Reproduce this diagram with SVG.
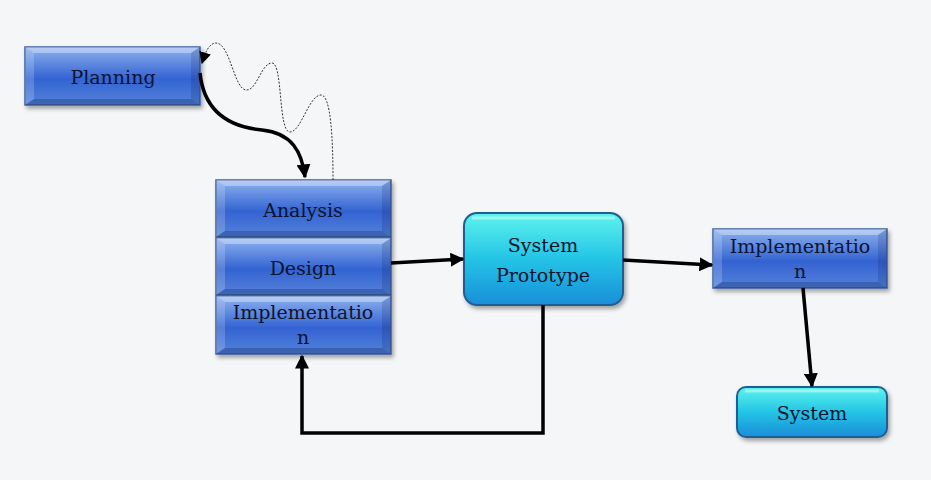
<svg xmlns="http://www.w3.org/2000/svg" width="931" height="480" viewBox="0 0 931 480">
<defs>
<style>
.lbl{font-family:"DejaVu Serif","Liberation Serif",serif;font-size:19px;fill:#0a142e;text-anchor:middle}
.conn{fill:none;stroke:#000;stroke-width:3.5}
.bx{stroke:#3a5f9e;stroke-width:1.5}
.cy{stroke:#1f5e95;stroke-width:2}
.hi{fill:#fff;opacity:.35}
.hs{fill:#fff;opacity:.18}
.dk{fill:#001040;opacity:.15}
.db{fill:#001040;opacity:.25}
</style>
<linearGradient id="gb" x1="0" y1="0" x2="0" y2="1">
<stop offset="0" stop-color="#8fb2ee"/>
<stop offset=".55" stop-color="#3363d2"/>
<stop offset="1" stop-color="#5582da"/>
</linearGradient>
<linearGradient id="gc" x1="0" y1="0" x2="0" y2="1">
<stop offset="0" stop-color="#5ef4ec"/>
<stop offset=".5" stop-color="#24c4e6"/>
<stop offset="1" stop-color="#1a8ed8"/>
</linearGradient>
<filter id="sh" x="-10%" y="-10%" width="130%" height="140%">
<feDropShadow dx="2" dy="3" stdDeviation="2" flood-color="#000" flood-opacity=".35"/>
</filter>
<marker id="ah" viewBox="0 0 10 10" refX="9" refY="5" markerWidth="4" markerHeight="4" orient="auto" markerUnits="strokeWidth">
<path d="M0,0L10,5L0,10z" fill="#000"/>
</marker>
<marker id="ahs" viewBox="0 0 10 10" refX="9" refY="5" markerWidth="12" markerHeight="12" orient="auto" markerUnits="strokeWidth">
<path d="M0,0L10,5L0,10z" fill="#000"/>
</marker>
</defs>
<rect width="931" height="480" fill="#f5f6f7"/>

<g id="planning">
<rect x="25" y="47" width="175" height="58" fill="url(#gb)" class="bx" filter="url(#sh)"/>
<polygon class="hi" points="25,47 200,47 191,53 34,53"/>
<polygon class="hs" points="25,47 34,53 34,99 25,105"/>
<polygon class="dk" points="200,47 200,105 191,99 191,53"/>
<polygon class="db" points="25,105 34,99 191,99 200,105"/>
<text class="lbl" x="113" y="84">Planning</text>
</g>

<g id="analysis">
<rect x="216" y="180" width="175" height="57" fill="url(#gb)" class="bx" filter="url(#sh)"/>
<polygon class="hi" points="216,180 391,180 382,186 225,186"/>
<polygon class="hs" points="216,180 225,186 225,231 216,237"/>
<polygon class="dk" points="391,180 391,237 382,231 382,186"/>
<polygon class="db" points="216,237 225,231 382,231 391,237"/>
<text class="lbl" x="303" y="217">Analysis</text>
</g>

<g id="design">
<rect x="216" y="238" width="175" height="57" fill="url(#gb)" class="bx" filter="url(#sh)"/>
<polygon class="hi" points="216,238 391,238 382,244 225,244"/>
<polygon class="hs" points="216,238 225,244 225,289 216,295"/>
<polygon class="dk" points="391,238 391,295 382,289 382,244"/>
<polygon class="db" points="216,295 225,289 382,289 391,295"/>
<text class="lbl" x="303" y="275">Design</text>
</g>

<g id="implementation1">
<rect x="216" y="296" width="175" height="58" fill="url(#gb)" class="bx" filter="url(#sh)"/>
<polygon class="hi" points="216,296 391,296 382,302 225,302"/>
<polygon class="hs" points="216,296 225,302 225,348 216,354"/>
<polygon class="dk" points="391,296 391,354 382,348 382,302"/>
<polygon class="db" points="216,354 225,348 382,348 391,354"/>
<text class="lbl" x="303" y="319">Implementatio</text>
<text class="lbl" x="303" y="344">n</text>
</g>

<g id="prototype">
<rect x="464" y="213" width="159" height="92" rx="13" fill="url(#gc)" class="cy" filter="url(#sh)"/>
<path d="M472,218 H615" stroke="#fff" stroke-opacity=".4" stroke-width="3" fill="none"/>
<text class="lbl" x="543" y="252">System</text>
<text class="lbl" x="543" y="282">Prototype</text>
</g>

<g id="implementation2">
<rect x="713" y="229" width="174" height="59" fill="url(#gb)" class="bx" filter="url(#sh)"/>
<polygon class="hi" points="713,229 887,229 878,235 722,235"/>
<polygon class="hs" points="713,229 722,235 722,282 713,288"/>
<polygon class="dk" points="887,229 887,288 878,282 878,235"/>
<polygon class="db" points="713,288 722,282 878,282 887,288"/>
<text class="lbl" x="800" y="253">Implementatio</text>
<text class="lbl" x="800" y="278">n</text>
</g>

<g id="system">
<rect x="737" y="387" width="150" height="50" rx="9" fill="url(#gc)" class="cy" filter="url(#sh)"/>
<path d="M745,391 H879" stroke="#fff" stroke-opacity=".4" stroke-width="3" fill="none"/>
<text class="lbl" x="812" y="420">System</text>
</g>

<g id="connectors">
<path class="conn" d="M200,73 C204,112 230,127 262,130 C292,133 302,152 305,177" marker-end="url(#ah)"/>
<path d="M333,180 C333,140 331,95 321,95 C309,95 301,132 290,132 C278,132 283,63 272,63 C261,63 257,91 246,90 C234,89 230,43 216,43 C209,43 205,53 202,63" fill="none" stroke="#333" stroke-width="1" stroke-dasharray="2,1.5" marker-end="url(#ahs)"/>
<path class="conn" d="M391,263 L463,259" marker-end="url(#ah)"/>
<path class="conn" d="M623,260 L712,265" marker-end="url(#ah)"/>
<path class="conn" d="M803,288 L812,386" marker-end="url(#ah)"/>
<path class="conn" d="M543,305 V433 H302 V356" marker-end="url(#ah)"/>
</g>
</svg>
